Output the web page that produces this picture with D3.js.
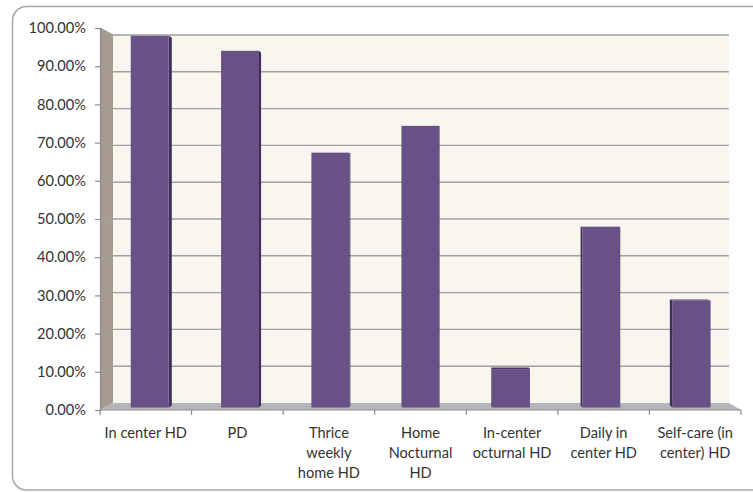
<!DOCTYPE html>
<html>
<head>
<meta charset="utf-8">
<script src="https://cdn.jsdelivr.net/npm/d3@7"></script>
<style>
  html, body { margin: 0; padding: 0; background: #ffffff; }
  svg { display: block; }
  text { font-family: Lato, "Open Sans", sans-serif; fill: #333333; }
</style>
</head>
<body>
<svg id="chart" width="753" height="492"></svg>
<script>
// Treatment modality shares
const categories = [
  "In center HD",
  "PD",
  "Thrice weekly home HD",
  "Home Nocturnal HD",
  "In-center octurnal HD",
  "Daily in center HD",
  "Self-care (in center) HD"
];
const labelLines = [
  ["In center HD"],
  ["PD"],
  ["Thrice", "weekly", "home HD"],
  ["Home", "Nocturnal", "HD"],
  ["In-center", "octurnal HD"],
  ["Daily in", "center HD"],
  ["Self-care (in", "center) HD"]
];
const values = [0.986, 0.946, 0.676, 0.747, 0.102, 0.479, 0.284];
const yTicks = [0, 0.1, 0.2, 0.3, 0.4, 0.5, 0.6, 0.7, 0.8, 0.9, 1.0];

const svg = d3.select("#chart");

// Outer chart frame
svg.append("rect")
  .attr("x", 12.5).attr("y", 6.5)
  .attr("width", 780).attr("height", 483.5)
  .attr("rx", 14).attr("ry", 14)
  .attr("fill", "#ffffff")
  .attr("stroke", "#a6a6a6")
  .attr("stroke-width", 1.5);

// Front plane and back wall of the 3-D box
const xFront = d3.scaleLinear().domain([0, 1]).range([100, 741]);
const xBack  = d3.scaleLinear().domain([0, 1]).range([113, 729]);
const yFront = d3.scaleLinear().domain([0, 1]).range([410, 28]);
const yBack  = d3.scaleLinear().domain([0, 1]).range([403, 35]);

// position inside the box: u across (0..1), v value, d depth (0 front .. 1 back)
const px = (u, d) => d3.interpolateNumber(xFront(u), xBack(u))(d);
const py = (v, d) => d3.interpolateNumber(yFront(v), yBack(v))(d);

const band = d3.scaleBand().domain(categories).range([0, 1]).paddingInner(0.58).paddingOuter(0.29);

// Back wall
svg.append("polygon")
  .attr("points", [[px(0,1), py(1,1)], [px(1,1), py(1,1)], [px(1,1), py(0,1)], [px(0,1), py(0,1)]].join(" "))
  .attr("fill", "#f8f6ee");

// Side wall
svg.append("polygon")
  .attr("points", [[px(0,0), py(1,0)], [px(0,1), py(1,1)], [px(0,1), py(0,1)], [px(0,0), py(0,0)]].join(" "))
  .attr("fill", "#a69b8e");

// Floor
svg.append("polygon")
  .attr("points", [[px(0,0), py(0,0)], [px(1,0), py(0,0)], [px(1,1), py(0,1)], [px(0,1), py(0,1)]].join(" "))
  .attr("fill", "#b5b5bd");

// Gridlines on the back wall and across the side wall
const grid = svg.append("g").attr("stroke", "#a0a0a0").attr("stroke-width", 1.4).attr("fill", "none");
yTicks.filter(t => t > 0).forEach(t => {
  grid.append("polyline")
    .attr("points", [[px(0,0), py(t,0)], [px(0,1), py(t,1)], [px(1,1), py(t,1)]].join(" "));
});

// Bars
const dFront = 0.35, dBack = 0.65;
const mid = 0.5;
const bars = svg.append("g");
categories.forEach((c, i) => {
  const v = values[i];
  const u0 = band(c), u1 = band(c) + band.bandwidth();
  const fx0 = px(u0, dFront), fx1 = px(u1, dFront);
  const fy0 = py(0, dFront), fy1 = py(v, dFront);
  const g = bars.append("g");
  // visible side face: right side for bars left of centre, left side for bars right of centre
  const uc = (u0 + u1) / 2;
  const us = uc < mid ? u1 : u0;
  g.append("polygon")
    .attr("points", [[px(us, dFront), py(v, dFront)], [px(us, dBack), py(v, dBack)],
                     [px(us, dBack), py(0, dBack)], [px(us, dFront), py(0, dFront)]].join(" "))
    .attr("fill", "#3f2e57");
  // top face shows when the bar top sits below eye level
  if (py(v, dBack) < py(v, dFront)) {
    g.append("polygon")
      .attr("points", [[px(u0, dFront), py(v, dFront)], [px(u1, dFront), py(v, dFront)],
                       [px(u1, dBack), py(v, dBack)], [px(u0, dBack), py(v, dBack)]].join(" "))
      .attr("fill", "#4a3766");
  }
  g.append("rect")
    .attr("x", fx0).attr("y", fy1)
    .attr("width", fx1 - fx0).attr("height", fy0 - fy1)
    .attr("fill", "#685186");
});

// Value axis
const yAxis = d3.axisLeft(yFront).tickValues(yTicks).tickFormat(d3.format(".2%")).tickSize(5).tickPadding(9);
const ya = svg.append("g").attr("transform", `translate(${xFront(0)},0)`).call(yAxis);
ya.select(".domain").attr("stroke", "#8c8c8c").attr("stroke-width", 1.2);
ya.selectAll(".tick line").attr("stroke", "#8c8c8c").attr("stroke-width", 1.2);
ya.selectAll(".tick text").attr("font-size", 14.6).attr("fill", "#333333")
  .style("font-family", "Lato, 'Open Sans', sans-serif");

// Category axis
const xCat = d3.scaleBand().domain(categories).range([xFront(0), xFront(1)]);
const xa = svg.append("g");
xa.append("line")
  .attr("x1", xFront(0)).attr("x2", xFront(1))
  .attr("y1", yFront(0)).attr("y2", yFront(0))
  .attr("stroke", "#8c8c8c").attr("stroke-width", 1.2);
categories.concat([null]).forEach((c, i) => {
  const x = c === null ? xCat.range()[1] : xCat(c);
  xa.append("line")
    .attr("x1", x).attr("x2", x)
    .attr("y1", yFront(0)).attr("y2", yFront(0) + 5)
    .attr("stroke", "#8c8c8c").attr("stroke-width", 1.2);
});
categories.forEach((c, i) => {
  const t = xa.append("text")
    .attr("x", xCat(c) + xCat.bandwidth() / 2)
    .attr("y", 437.5)
    .attr("text-anchor", "middle")
    .attr("font-size", 14.6);
  labelLines[i].forEach((line, k) => {
    t.append("tspan")
      .attr("x", xCat(c) + xCat.bandwidth() / 2)
      .attr("dy", k === 0 ? 0 : 20)
      .text(line);
  });
});
</script>
</body>
</html>
